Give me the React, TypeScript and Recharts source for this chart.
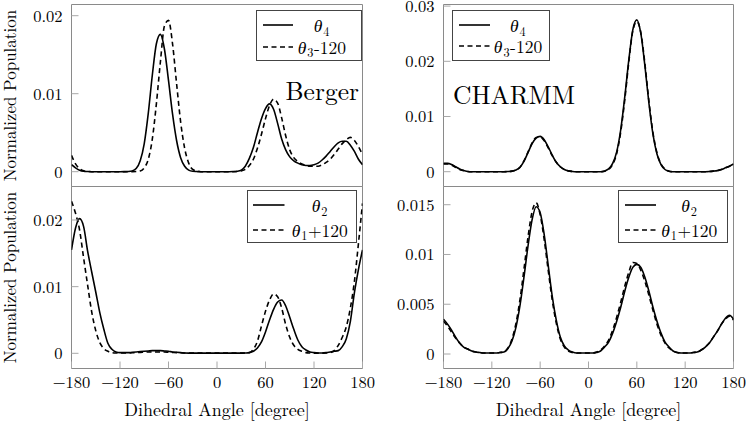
import React from 'react';
import { LineChart, Line, XAxis, YAxis, ReferenceArea, Legend } from 'recharts';

const FONT = "'Latin Modern Roman'";

// ---------- data (dihedral angle in degrees, 5 degree sampling) ----------
const angles = [
  -180, -175, -170, -165, -160, -155, -150, -145, -140, -135,
  -130, -125, -120, -115, -110, -105, -100, -95, -90, -85,
  -80, -75, -70, -65, -60, -55, -50, -45, -40, -35,
  -30, -25, -20, -15, -10, -5, 0, 5, 10, 15,
  20, 25, 30, 35, 40, 45, 50, 55, 60, 65,
  70, 75, 80, 85, 90, 95, 100, 105, 110, 115,
  120, 125, 130, 135, 140, 145, 150, 155, 160, 165,
  170, 175, 180,
];

// Berger, top row
const bergerTheta4 = [
  0.0009, 0.0005, 0.0002, 0.00006, 0.00002, 0, 0, 0, 0, 0,
  0, 0, 0, 0.00001, 0.00003, 0.0001, 0.0004, 0.0014, 0.0036, 0.0075,
  0.0124, 0.0164, 0.0176, 0.0157, 0.0117, 0.0074, 0.004, 0.0018, 0.0007, 0.0002,
  0.00005, 0.00002, 0, 0, 0, 0, 0, 0, 0, 0,
  0.00002, 0.00006, 0.0002, 0.0007, 0.0017, 0.0031, 0.005, 0.0068, 0.0081, 0.0087,
  0.008, 0.0062, 0.0042, 0.0028, 0.0019, 0.0014, 0.0011, 0.0009, 0.0008, 0.0008,
  0.0009, 0.0011, 0.0015, 0.002, 0.0026, 0.0032, 0.0037, 0.0039, 0.0039, 0.0034,
  0.0026, 0.0016, 0.0009,
];
const bergerTheta3m120 = [
  0.0021, 0.001, 0.0004, 0.00012, 0.00003, 0, 0, 0, 0, 0,
  0, 0, 0, 0, 0, 0, 0.00002, 0.0001, 0.0005, 0.0016,
  0.0042, 0.0087, 0.0141, 0.0187, 0.0194, 0.0164, 0.0113, 0.0064, 0.003, 0.0011,
  0.0003, 0.0001, 0, 0, 0, 0, 0, 0, 0, 0,
  0, 0.00002, 0.0001, 0.0003, 0.0008, 0.0016, 0.003, 0.0048, 0.0068, 0.0085,
  0.0093, 0.0088, 0.0069, 0.0046, 0.0028, 0.0018, 0.0013, 0.001, 0.0008, 0.0007,
  0.0007, 0.0007, 0.0009, 0.0012, 0.0016, 0.0022, 0.0029, 0.0036, 0.0041, 0.0044,
  0.004, 0.0032, 0.0022,
];

// CHARMM, top row
const charmmTheta4 = [
  0.0015, 0.0015, 0.0013, 0.0009, 0.0005, 0.0002, 0.00005, 0, 0, 0,
  0, 0, 0, 0, 0, 0, 0.00003, 0.0001, 0.0003, 0.0008,
  0.0019, 0.0035, 0.0051, 0.0061, 0.0064, 0.0058, 0.0045, 0.003, 0.0017, 0.0009,
  0.0004, 0.00015, 0.00005, 0, 0, 0, 0, 0, 0, 0,
  0.00014, 0.0005, 0.0015, 0.0036, 0.0076, 0.0135, 0.0202, 0.0257, 0.0275, 0.025,
  0.0192, 0.0124, 0.0068, 0.0032, 0.0013, 0.0004, 0.0001, 0, 0, 0,
  0, 0, 0, 0, 0, 0, 0.00003, 0.0001, 0.0002, 0.0004,
  0.0007, 0.001, 0.0014,
];
const charmmTheta3m120 = [
  0.0014, 0.0014, 0.0012, 0.0008, 0.0004, 0.0002, 0.00005, 0, 0, 0,
  0, 0, 0, 0, 0, 0, 0.00003, 0.0001, 0.0003, 0.0008,
  0.002, 0.0036, 0.0052, 0.0062, 0.0063, 0.0056, 0.0043, 0.0029, 0.0017, 0.0009,
  0.0004, 0.00015, 0.00005, 0, 0, 0, 0, 0, 0, 0,
  0.0001, 0.0004, 0.0013, 0.0033, 0.0072, 0.013, 0.0198, 0.0255, 0.0272, 0.0252,
  0.0196, 0.0128, 0.0071, 0.0034, 0.0014, 0.0005, 0.0001, 0, 0, 0,
  0, 0, 0, 0, 0, 0, 0.00003, 0.0001, 0.0002, 0.0004,
  0.0007, 0.001, 0.0013,
];

// Berger, bottom row
const bergerTheta2 = [
  0.0155, 0.0188, 0.0202, 0.019, 0.0153, 0.0122, 0.0092, 0.0061, 0.0036, 0.0015,
  0.0006, 0.0002, 0.0001, 0.0001, 0.0001, 0.00015, 0.0002, 0.00025, 0.0003, 0.00035,
  0.0004, 0.0004, 0.0004, 0.00035, 0.0003, 0.0002, 0.00015, 0.0001, 0.00005, 0.00003,
  0.00003, 0.00003, 0.00003, 0.00003, 0.00003, 0.00003, 0.00003, 0.00003, 0.00003, 0.00003,
  0.00003, 0.00003, 0.00003, 0.00005, 0.0001, 0.0003, 0.0008, 0.0017, 0.0032, 0.005,
  0.0066, 0.0077, 0.008, 0.0071, 0.0054, 0.0036, 0.002, 0.001, 0.0005, 0.0002,
  0.0001, 0.00005, 0.00005, 0.0001, 0.0002, 0.0003, 0.0004, 0.001, 0.0022, 0.0048,
  0.0091, 0.0126, 0.0155,
];
const bergerTheta1p120 = [
  0.0228, 0.021, 0.0185, 0.0143, 0.0102, 0.0062, 0.0034, 0.0016, 0.0007, 0.0003,
  0.0001, 0.00005, 0.00004, 0.00004, 0.00005, 0.00008, 0.0001, 0.00013, 0.00016, 0.0002,
  0.0002, 0.0002, 0.0002, 0.0002, 0.00016, 0.00013, 0.0001, 0.00008, 0.00005, 0.00004,
  0.00003, 0.00003, 0.00003, 0.00003, 0.00003, 0.00003, 0.00003, 0.00003, 0.00003, 0.00003,
  0.00003, 0.00003, 0.00003, 0.00005, 0.0001, 0.0006, 0.0018, 0.0041, 0.0063, 0.008,
  0.0089, 0.0085, 0.0068, 0.0043, 0.0024, 0.0012, 0.0006, 0.0003, 0.0001, 0.00005,
  0.00003, 0.00003, 0.00003, 0.00005, 0.0001, 0.0004, 0.0012, 0.0024, 0.004, 0.0068,
  0.0108, 0.0165, 0.0225,
];

// CHARMM, bottom row
const charmmTheta2 = [
  0.0035, 0.003, 0.0024, 0.0017, 0.0011, 0.0007, 0.0005, 0.0003, 0.0002, 0.00015,
  0.0001, 0.0001, 0.0001, 0.0001, 0.00015, 0.0002, 0.00055, 0.0013, 0.0027, 0.0049,
  0.0078, 0.0109, 0.0135, 0.0148, 0.0142, 0.012, 0.0089, 0.0058, 0.0034, 0.0017,
  0.0008, 0.0004, 0.0002, 0.0001, 0.0001, 0.0001, 0.0001, 0.0001, 0.00015, 0.0003,
  0.0007, 0.0012, 0.0021, 0.0033, 0.0047, 0.0063, 0.0077, 0.0087, 0.009, 0.0087,
  0.0077, 0.0063, 0.0047, 0.0033, 0.0021, 0.0012, 0.0007, 0.0003, 0.00015, 0.0001,
  0.0001, 0.0001, 0.00015, 0.0002, 0.0004, 0.0007, 0.0011, 0.0017, 0.0023, 0.003,
  0.0036, 0.0039, 0.0035,
];
const charmmTheta1p120 = [
  0.0033, 0.0028, 0.0022, 0.0016, 0.0011, 0.0007, 0.0005, 0.0003, 0.0002, 0.00015,
  0.0001, 0.0001, 0.0001, 0.0001, 0.00015, 0.0002, 0.0006, 0.0015, 0.0031, 0.0055,
  0.0086, 0.0118, 0.0143, 0.0152, 0.014, 0.0115, 0.0084, 0.0054, 0.0031, 0.0015,
  0.0007, 0.0003, 0.00015, 0.0001, 0.0001, 0.0001, 0.0001, 0.0001, 0.0002, 0.0004,
  0.0008, 0.0014, 0.0024, 0.0037, 0.0052, 0.0068, 0.0082, 0.0092, 0.0091, 0.0084,
  0.0073, 0.0059, 0.0044, 0.003, 0.0019, 0.0011, 0.0006, 0.0003, 0.00015, 0.0001,
  0.0001, 0.0001, 0.00015, 0.0002, 0.0004, 0.0007, 0.0011, 0.0017, 0.0023, 0.003,
  0.0035, 0.0038, 0.0034,
];

const xTicks = [-180, -120, -60, 0, 60, 120, 180];
const yTicksBergerTop = [0, 0.01, 0.02];
const yTicksCharmmTop = [0, 0.01, 0.02, 0.03];
const yTicksBergerBottom = [0, 0.01, 0.02];
const yTicksCharmmBottom = [0, 0.005, 0.01, 0.015];

const topLegendItems = [
  { sub: '4', suffix: '', dashed: false },
  { sub: '3', suffix: '-120', dashed: true },
];
const bottomLegendItems = [
  { sub: '2', suffix: '', dashed: false },
  { sub: '1', suffix: '+120', dashed: true },
];

// ---------- layout ----------
const ML = 0.5;
const MT = 12.5;
const MR = 24;
const YW = 70;
const PLOT_H = 182;
const FRAME = '#8a8a8a';
const TICK = '#a8a8a8';
const DASH = '5 3.5';

const fmtX = (v: number) => (v < 0 ? `\u2212${-v}` : `${v}`);
const fmtY = (v: number) => (v === 0 ? '0' : String(v));

type Item = { sub: string; suffix: string; dashed: boolean };
type Box = { x: number; y: number; w: number; h: number; rows: number[]; sx: number; sl: number; tc: number };

function LegendBox({ items, box }: { items: Item[]; box: Box }) {
  return (
    <div
      style={{
        width: box.w,
        height: box.h,
        border: '1px solid #444',
        background: '#fff',
        position: 'relative',
        boxSizing: 'border-box',
        fontFamily: FONT,
        fontSize: 17.5,
        color: '#000',
      }}
    >
      {items.map((it, i) => (
        <React.Fragment key={i}>
          <svg
            style={{ position: 'absolute', left: box.sx - 1, top: box.rows[i] - 4 }}
            width={box.sl}
            height={6}
          >
            <line
              x1={0}
              y1={3}
              x2={box.sl}
              y2={3}
              stroke="#000"
              strokeWidth={1.6}
              strokeDasharray={it.dashed ? DASH : undefined}
            />
          </svg>
          <div
            style={{
              position: 'absolute',
              left: box.tc - 30,
              width: 60,
              top: box.rows[i] - 12,
              height: 22,
              lineHeight: '22px',
              textAlign: 'center',
              whiteSpace: 'nowrap',
            }}
          >
            <i style={{ marginRight: 1 }}>θ</i>
            <span style={{ fontSize: '0.7em', position: 'relative', top: '0.3em', marginRight: 0.5 }}>{it.sub}</span>
            {it.suffix}
          </div>
        </React.Fragment>
      ))}
    </div>
  );
}

type PanelProps = {
  chartLeft: number;
  chartTop: number;
  plotW: number;
  domainY: [number, number];
  yTicks: number[];
  solid: number[];
  dashed: number[];
  showX: boolean;
  items: Item[];
  box: Box;
};

function Panel(p: PanelProps) {
  const data = angles.map((a, i) => ({ angle: a, solid: p.solid[i], dashed: p.dashed[i] }));
  const XH = p.showX ? 40 : 1;
  const width = ML + YW + p.plotW + MR;
  const height = MT + PLOT_H + XH;
  const tickStyle = { fill: '#000', fontSize: 16.5, fontFamily: FONT };
  return (
    <div style={{ position: 'absolute', left: p.chartLeft, top: p.chartTop }}>
      <LineChart width={width} height={height} data={data} margin={{ top: MT, right: MR, bottom: 0, left: ML }}>
        <XAxis
          dataKey="angle"
          type="number"
          domain={[-180, 180]}
          ticks={xTicks}
          allowDataOverflow
          interval={0}
          height={XH}
          axisLine={false}
          tickLine={{ stroke: TICK }}
          tickSize={-7}
          tickMargin={15}
          tick={p.showX ? tickStyle : false}
          tickFormatter={fmtX}
        />
        <YAxis
          type="number"
          domain={p.domainY}
          ticks={p.yTicks}
          allowDataOverflow
          interval={0}
          width={YW}
          axisLine={false}
          tickLine={{ stroke: TICK }}
          tickSize={-7}
          tickMargin={16}
          tick={tickStyle}
          tickFormatter={fmtY}
        />
        <ReferenceArea
          x1={-180}
          x2={180}
          y1={p.domainY[0]}
          y2={p.domainY[1]}
          fill="none"
          fillOpacity={0}
          stroke={FRAME}
          strokeWidth={1}
          ifOverflow="visible"
        />
        <Line type="monotone" dataKey="solid" stroke="#000" strokeWidth={1.6} dot={false} isAnimationActive={false} />
        <Line
          type="monotone"
          dataKey="dashed"
          stroke="#000"
          strokeWidth={1.6}
          strokeDasharray={DASH}
          dot={false}
          isAnimationActive={false}
        />
        <Legend
          layout="horizontal"
          verticalAlign="middle"
          align="center"
          wrapperStyle={{ left: p.box.x - p.chartLeft, top: p.box.y - p.chartTop, width: p.box.w, height: p.box.h }}
          content={() => <LegendBox items={p.items} box={p.box} />}
        />
      </LineChart>
    </div>
  );
}

const boxTL: Box = { x: 256.3, y: 10.3, w: 106, h: 51, rows: [15, 36.5], sx: 7, sl: 30, tc: 64.5 };
const boxTR: Box = { x: 452, y: 10.3, w: 98, h: 51, rows: [15, 36], sx: 6.5, sl: 31.5, tc: 65 };
const boxBL: Box = { x: 247.3, y: 190.3, w: 110, h: 53, rows: [14.7, 39.5], sx: 6, sl: 31.5, tc: 71.5 };
const boxBR: Box = { x: 618.3, y: 190.2, w: 110, h: 53, rows: [14.7, 39.5], sx: 6.7, sl: 31.5, tc: 70 };

const yLabelStyle = (cy: number): React.CSSProperties => ({
  position: 'absolute',
  left: 8.5 - 100,
  top: cy - 8.5,
  width: 200,
  height: 17,
  lineHeight: '17px',
  fontSize: 17,
  fontFamily: FONT,
  textAlign: 'center',
  whiteSpace: 'nowrap',
  transform: 'rotate(-90deg)',
});

const xLabelStyle = (cx: number): React.CSSProperties => ({
  position: 'absolute',
  left: cx - 150,
  top: 399.5,
  width: 300,
  height: 18,
  lineHeight: '18px',
  fontSize: 18,
  fontFamily: FONT,
  textAlign: 'center',
  whiteSpace: 'nowrap',
});

export default function App() {
  return (
    <div
      style={{
        position: 'absolute',
        left: 0,
        top: 0,
        width: 747,
        height: 421,
        background: '#fff',
        overflow: 'hidden',
        fontFamily: FONT,
        color: '#000',
      }}
    >
      <Panel
        chartLeft={1}
        chartTop={-8}
        plotW={291}
        domainY={[-0.0018974, 0.021436]}
        yTicks={yTicksBergerTop}
        solid={bergerTheta4}
        dashed={bergerTheta3m120}
        showX={false}
        items={topLegendItems}
        box={boxTL}
      />
      <Panel
        chartLeft={373}
        chartTop={-8}
        plotW={290}
        domainY={[-0.002681, 0.03029]}
        yTicks={yTicksCharmmTop}
        solid={charmmTheta4}
        dashed={charmmTheta3m120}
        showX={false}
        items={topLegendItems}
        box={boxTR}
      />
      <Panel
        chartLeft={1}
        chartTop={174}
        plotW={291}
        domainY={[-0.0022806, 0.025026]}
        yTicks={yTicksBergerBottom}
        solid={bergerTheta2}
        dashed={bergerTheta1p120}
        showX={true}
        items={bottomLegendItems}
        box={boxBL}
      />
      <Panel
        chartLeft={373}
        chartTop={174}
        plotW={290}
        domainY={[-0.0014568, 0.016829]}
        yTicks={yTicksCharmmBottom}
        solid={charmmTheta2}
        dashed={charmmTheta1p120}
        showX={true}
        items={bottomLegendItems}
        box={boxBR}
      />

      <div style={{ position: 'absolute', left: 200, top: 77, width: 159, fontSize: 25.5, lineHeight: '25.5px', textAlign: 'right', fontFamily: FONT }}>
        Berger
      </div>
      <div style={{ position: 'absolute', left: 453, top: 81, fontSize: 25.5, lineHeight: '25.5px', whiteSpace: 'nowrap', fontFamily: FONT }}>
        CHARMM
      </div>

      <div style={yLabelStyle(95.5)}>Normalized Population</div>
      <div style={yLabelStyle(277.5)}>Normalized Population</div>

      <div style={xLabelStyle(217)}>Dihedral Angle [degree]</div>
      <div style={xLabelStyle(588.5)}>Dihedral Angle [degree]</div>
    </div>
  );
}
